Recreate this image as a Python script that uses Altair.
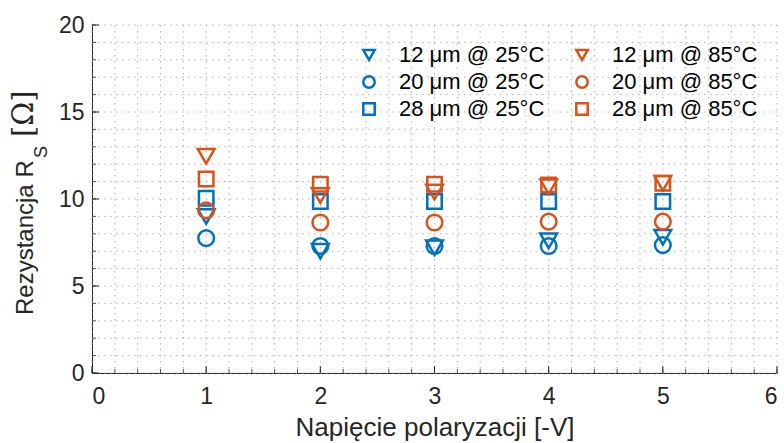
import altair as alt
import pandas as pd

# ---- data ----
voltages = [1, 2, 3, 4, 5]
series_names = ["12 μm @ 25°C", "20 μm @ 25°C", "28 μm @ 25°C",
                "12 μm @ 85°C", "20 μm @ 85°C", "28 μm @ 85°C"]
r_12_25 = [9.0, 7.0, 7.2, 7.6, 7.8]
r_20_25 = [7.75, 7.3, 7.3, 7.3, 7.35]
r_28_25 = [10.05, 9.85, 9.85, 9.85, 9.85]
r_12_85 = [12.45, 10.2, 10.4, 10.7, 10.9]
r_20_85 = [9.35, 8.65, 8.65, 8.7, 8.7]
r_28_85 = [11.15, 10.85, 10.85, 10.8, 10.9]

x_major = [0, 1, 2, 3, 4, 5, 6]
y_major = [0, 5, 10, 15, 20]
x_minor = [round(i * 0.2, 1) for i in range(0, 31)]
y_minor = list(range(0, 21))

BLUE = "#0072BD"
ORANGE = "#D95319"
W, H = 685, 348
FONT = "Liberation Sans"
TXT = "#262626"

order = [("12 μm @ 25°C", r_12_25, "tri"), ("20 μm @ 25°C", r_20_25, "circ"),
         ("28 μm @ 25°C", r_28_25, "sq"), ("12 μm @ 85°C", r_12_85, "tri"),
         ("20 μm @ 85°C", r_20_85, "circ"), ("28 μm @ 85°C", r_28_85, "sq")]
rows = []
for name, vals, kind in order:
    for v, r in zip(voltages, vals):
        rows.append({"V": v, "R": r, "series": name, "kind": kind})
df = pd.DataFrame(rows)

xs = alt.Scale(domain=[0, 6], nice=False)
ys = alt.Scale(domain=[0, 20], nice=False)

x_axis = alt.Axis(values=x_major, title="Napięcie polaryzacji [-V]", grid=False,
                  ticks=False, domainColor=TXT, labelFontSize=23, labelColor=TXT,
                  labelPadding=12, titleFontSize=26, titleFontWeight="normal",
                  titleColor=TXT, titlePadding=6, labelFont=FONT, titleFont=FONT)
y_axis = alt.Axis(values=y_major, title=None, grid=False, ticks=False,
                  domainColor=TXT, labelFontSize=23, labelColor=TXT,
                  labelPadding=8, labelFont=FONT)

grid_col = "#b4b4b4"
vgrid = alt.Chart(pd.DataFrame({"x": x_minor})).mark_rule(
    color=grid_col, strokeWidth=1, strokeDash=[1.5, 4.5]).encode(
    x=alt.X("x:Q", scale=xs, axis=x_axis), y=alt.value(0), y2=alt.value(H))
hgrid = alt.Chart(pd.DataFrame({"y": y_minor})).mark_rule(
    color=grid_col, strokeWidth=1, strokeDash=[1.5, 4.5]).encode(
    y=alt.Y("y:Q", scale=ys, axis=y_axis), x=alt.value(0), x2=alt.value(W))

xt_major = alt.Chart(pd.DataFrame({"x": x_major})).mark_rule(color=TXT, strokeWidth=1).encode(
    x=alt.X("x:Q", scale=xs, axis=x_axis), y=alt.value(H), y2=alt.value(H - 7))
xt_minor = alt.Chart(pd.DataFrame({"x": x_minor})).mark_rule(color=TXT, strokeWidth=0.8).encode(
    x=alt.X("x:Q", scale=xs, axis=x_axis), y=alt.value(H), y2=alt.value(H - 4))
yt_major = alt.Chart(pd.DataFrame({"y": y_major})).mark_rule(color=TXT, strokeWidth=1).encode(
    y=alt.Y("y:Q", scale=ys, axis=y_axis), x=alt.value(0), x2=alt.value(7))
yt_minor = alt.Chart(pd.DataFrame({"y": y_minor})).mark_rule(color=TXT, strokeWidth=0.8).encode(
    y=alt.Y("y:Q", scale=ys, axis=y_axis), x=alt.value(0), x2=alt.value(4))

points = alt.Chart(df).mark_point(filled=False, strokeWidth=2.5, opacity=1).encode(
    x=alt.X("V:Q", scale=xs, axis=x_axis),
    y=alt.Y("R:Q", scale=ys, axis=y_axis),
    color=alt.Color("series:N",
                    scale=alt.Scale(domain=series_names,
                                    range=[BLUE, BLUE, BLUE, ORANGE, ORANGE, ORANGE]),
                    legend=alt.Legend(title=None, orient="none", legendX=266, legendY=19,
                                      columns=2, columnPadding=26, rowPadding=5,
                                      labelFontSize=22, labelFont=FONT,
                                      labelColor="#000000", labelOffset=19,
                                      symbolSize=130, symbolStrokeWidth=2.5, padding=0)),
    shape=alt.Shape("series:N",
                    scale=alt.Scale(domain=series_names,
                                    range=["triangle-down", "circle", "square",
                                           "triangle-down", "circle", "square"])),
    size=alt.Size("kind:N", scale=alt.Scale(domain=["tri", "circ", "sq"], range=[280, 210, 110]),
                  legend=None),
)

one = pd.DataFrame({"a": [0]})
t1 = alt.Chart(one).mark_text(text="Rezystancja R", angle=270, align="left", baseline="alphabetic",
                              fontSize=24, font=FONT, color=TXT).encode(
    x=alt.value(-59), y=alt.value(290))
t2 = alt.Chart(one).mark_text(text="S", angle=270, align="left", baseline="alphabetic",
                              fontSize=18, font=FONT, color=TXT).encode(
    x=alt.value(-45), y=alt.value(133))
t3 = alt.Chart(one).mark_text(text="[Ω]", angle=270, align="left", baseline="alphabetic",
                              fontSize=29, font="DejaVu Serif", color=TXT).encode(
    x=alt.value(-59), y=alt.value(112))

chart = alt.layer(vgrid, hgrid, xt_minor, xt_major, yt_minor, yt_major, points, t1, t2, t3).properties(
    width=W, height=H,
    autosize=alt.AutoSizeParams(type="none"),
    padding={"left": 92, "top": 25, "right": 7, "bottom": 70},
    background="white",
).configure_view(stroke="transparent")

chart.save("out.html", embed_options={"renderer": "svg", "actions": False})
